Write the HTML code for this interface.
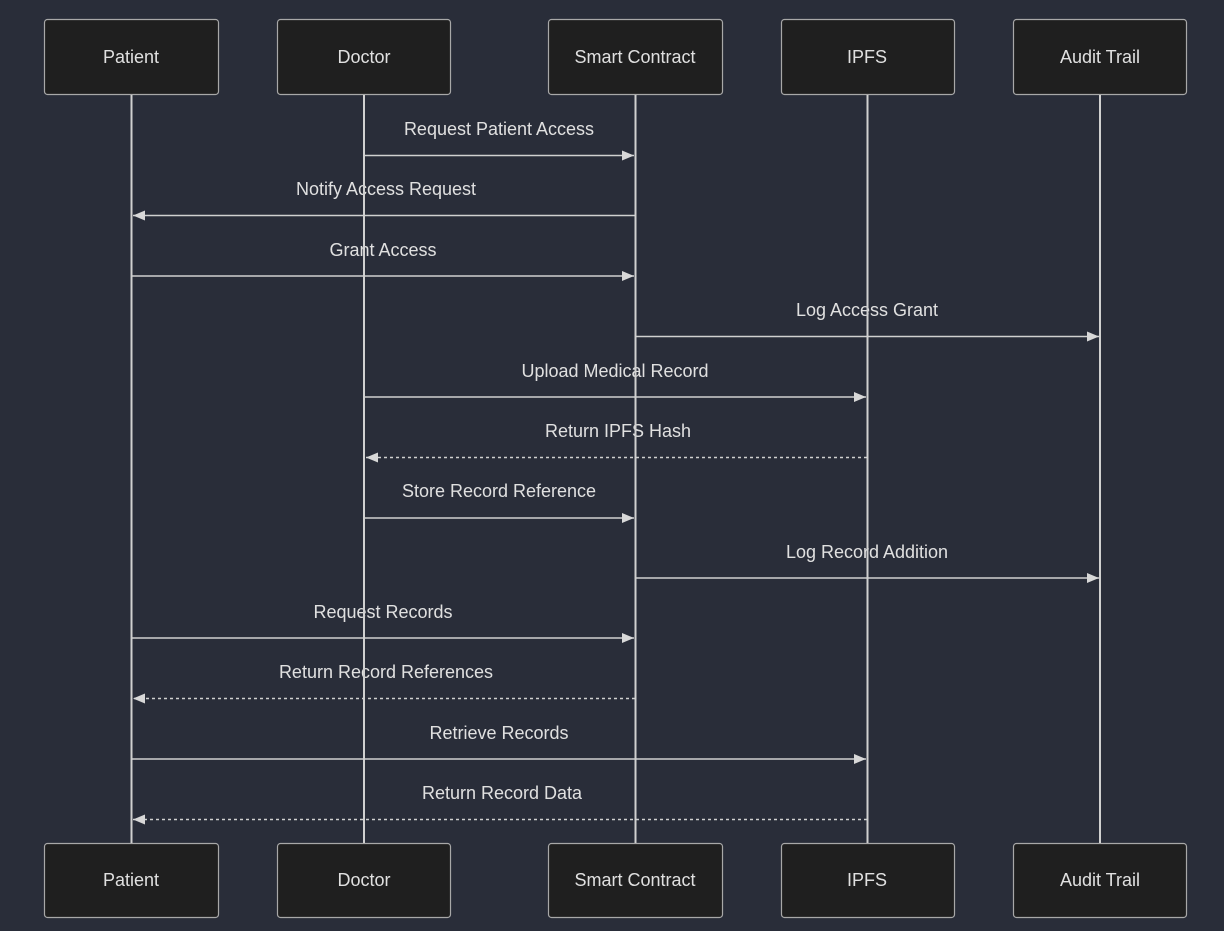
<!DOCTYPE html>
<html><head><meta charset="utf-8"><style>
html,body{margin:0;padding:0;background:#292d39;}
svg{display:block}
text{font-family:"Liberation Sans","DejaVu Sans",sans-serif;fill:#e0e0e0;font-size:18px;text-anchor:middle}
</style></head><body>
<svg width="1224" height="931" viewBox="0 0 1224 931" xmlns="http://www.w3.org/2000/svg">
<defs>
<marker id="a" markerWidth="12" markerHeight="10" refX="12" refY="5" orient="auto" markerUnits="userSpaceOnUse">
<path d="M0,0 L12,5 L0,10 z" fill="#d8d8d8"/></marker>
</defs>
<rect width="1224" height="931" fill="#292d39"/>
<g fill="#1f1f1f" stroke="#a8a8a8" stroke-width="1.2">
<rect x="44.5" y="19.5" width="174" height="75" rx="3"/>
<rect x="277.5" y="19.5" width="173" height="75" rx="3"/>
<rect x="548.5" y="19.5" width="174" height="75" rx="3"/>
<rect x="781.5" y="19.5" width="173" height="75" rx="3"/>
<rect x="1013.5" y="19.5" width="173" height="75" rx="3"/>
<rect x="44.5" y="843.5" width="174" height="74" rx="3"/>
<rect x="277.5" y="843.5" width="173" height="74" rx="3"/>
<rect x="548.5" y="843.5" width="174" height="74" rx="3"/>
<rect x="781.5" y="843.5" width="173" height="74" rx="3"/>
<rect x="1013.5" y="843.5" width="173" height="74" rx="3"/>
</g>
<g>
<text x="131" y="63">Patient</text><text x="364" y="63">Doctor</text><text x="635" y="63">Smart Contract</text><text x="867" y="63">IPFS</text><text x="1100" y="63">Audit Trail</text>
<text x="131" y="886">Patient</text><text x="364" y="886">Doctor</text><text x="635" y="886">Smart Contract</text><text x="867" y="886">IPFS</text><text x="1100" y="886">Audit Trail</text>
</g>
<g>
<text x="499" y="135">Request Patient Access</text>
<text x="386" y="195">Notify Access Request</text>
<text x="383" y="256">Grant Access</text>
<text x="867" y="316">Log Access Grant</text>
<text x="615" y="377">Upload Medical Record</text>
<text x="618" y="437">Return IPFS Hash</text>
<text x="499" y="497">Store Record Reference</text>
<text x="867" y="558">Log Record Addition</text>
<text x="383" y="618">Request Records</text>
<text x="386" y="678">Return Record References</text>
<text x="499" y="739">Retrieve Records</text>
<text x="502" y="799">Return Record Data</text>
</g>
<g stroke="#d0d0d0" stroke-width="2">
<line x1="131.5" y1="95" x2="131.5" y2="843"/>
<line x1="364" y1="95" x2="364" y2="843"/>
<line x1="635.5" y1="95" x2="635.5" y2="843"/>
<line x1="867.5" y1="95" x2="867.5" y2="843"/>
<line x1="1100" y1="95" x2="1100" y2="843"/>
</g>
<g stroke="#d0d0d0" stroke-width="1.6" fill="none">
<line x1="364" y1="155.5" x2="634" y2="155.5" marker-end="url(#a)"/>
<line x1="635" y1="215.5" x2="133" y2="215.5" marker-end="url(#a)"/>
<line x1="131" y1="276" x2="634" y2="276" marker-end="url(#a)"/>
<line x1="635" y1="336.5" x2="1099" y2="336.5" marker-end="url(#a)"/>
<line x1="364" y1="397" x2="866" y2="397" marker-end="url(#a)"/>
<line x1="867" y1="457.5" x2="366" y2="457.5" stroke-dasharray="3,3" marker-end="url(#a)"/>
<line x1="364" y1="518" x2="634" y2="518" marker-end="url(#a)"/>
<line x1="635" y1="578" x2="1099" y2="578" marker-end="url(#a)"/>
<line x1="131" y1="638" x2="634" y2="638" marker-end="url(#a)"/>
<line x1="635" y1="698.5" x2="133" y2="698.5" stroke-dasharray="3,3" marker-end="url(#a)"/>
<line x1="131" y1="759" x2="866" y2="759" marker-end="url(#a)"/>
<line x1="867" y1="819.5" x2="133" y2="819.5" stroke-dasharray="3,3" marker-end="url(#a)"/>
</g>
</svg>
</body></html>
